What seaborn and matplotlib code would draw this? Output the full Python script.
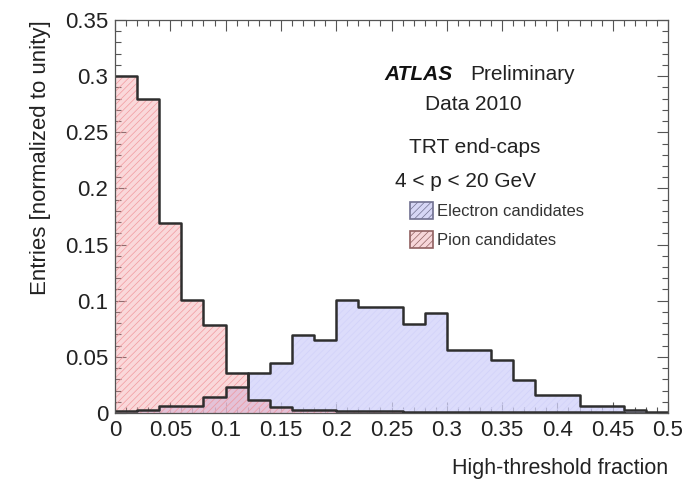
import numpy as np
import pandas as pd
import matplotlib
matplotlib.use("Agg")
import matplotlib.pyplot as plt
from matplotlib.patches import Patch
from matplotlib.ticker import MultipleLocator
import seaborn as sns

# Histogram binning of the high-threshold fraction
bin_edges = [0.00, 0.02, 0.04, 0.06, 0.08, 0.10, 0.12, 0.14, 0.16, 0.18,
             0.20, 0.22, 0.24, 0.26, 0.28, 0.30, 0.32, 0.34, 0.36, 0.38,
             0.40, 0.42, 0.44, 0.46, 0.48, 0.50]

# Normalised entries per bin
electron_entries = [0.002, 0.003, 0.006, 0.006, 0.0146, 0.0235, 0.036, 0.0445,
                    0.0695, 0.065, 0.101, 0.094, 0.094, 0.079, 0.089, 0.056,
                    0.056, 0.047, 0.029, 0.016, 0.016, 0.0065, 0.0065, 0.003,
                    0.0012]
pion_entries = [0.300, 0.280, 0.169, 0.101, 0.0786, 0.036, 0.012, 0.0057,
                0.003, 0.0025, 0.002, 0.0018, 0.0015, 0.0013, 0.0012, 0.0010,
                0.0009, 0.0008, 0.0007, 0.0006, 0.0006, 0.0005, 0.0005, 0.0004,
                0.0004]

series_labels = ["Electron candidates", "Pion candidates"]

edges = np.array(bin_edges)
centers = 0.5 * (edges[:-1] + edges[1:])
df = pd.DataFrame({
    "fraction": np.concatenate([centers, centers]),
    "entries": electron_entries + pion_entries,
    "sample": [series_labels[0]] * len(centers) + [series_labels[1]] * len(centers),
})

sns.set_theme(style="ticks")
plt.rcParams["font.family"] = ["Liberation Sans", "DejaVu Sans"]
plt.rcParams["hatch.linewidth"] = 0.5

fig = plt.figure(figsize=(6.86, 4.84), dpi=100)
ax = fig.add_axes([0.1676, 0.1467, 0.8062, 0.8120])

fill_colors = {series_labels[0]: (0.82, 0.82, 0.98), series_labels[1]: (0.95, 0.60, 0.62)}
fill_alpha = {series_labels[0]: 0.75, series_labels[1]: 0.38}
hatch_colors = {series_labels[0]: (0.76, 0.76, 0.93), series_labels[1]: (0.93, 0.76, 0.78)}
line_color = "#2e2e2e"

for name in series_labels:
    sub = df[df["sample"] == name]
    plt.rcParams["hatch.color"] = hatch_colors[name]
    sns.histplot(data=sub, x="fraction", weights="entries", bins=list(bin_edges),
                 element="step", fill=True, color=fill_colors[name],
                 alpha=fill_alpha[name], linewidth=0, ax=ax)
    coll = ax.collections[-1]
    coll.set_edgecolor("none")
    coll.set_hatch("/////")

for name in series_labels:
    sub = df[df["sample"] == name]
    sns.histplot(data=sub, x="fraction", weights="entries", bins=list(bin_edges),
                 element="step", fill=False, color=line_color,
                 linewidth=1.8, ax=ax)

ax.set_xlim(0, 0.5)
ax.set_ylim(0, 0.35)
ax.xaxis.set_major_locator(MultipleLocator(0.05))
ax.xaxis.set_minor_locator(MultipleLocator(0.01))
ax.yaxis.set_major_locator(MultipleLocator(0.05))
ax.yaxis.set_minor_locator(MultipleLocator(0.01))
ax.xaxis.set_major_formatter(plt.FuncFormatter(lambda v, p: f"{v:g}"))
ax.yaxis.set_major_formatter(plt.FuncFormatter(lambda v, p: f"{v:g}"))
ax.tick_params(which="both", direction="in", top=True, right=True,
               colors="#555555", labelcolor="#222222", labelsize=16, width=0.8)
ax.tick_params(which="major", length=8, pad=5)
ax.tick_params(which="minor", length=4)
for sp in ax.spines.values():
    sp.set_color("#555555")
    sp.set_linewidth(0.9)

ax.set_xlabel("High-threshold fraction", loc="right", fontsize=15.5,
              color="#222222", labelpad=12)
ax.set_ylabel("Entries [normalized to unity]", loc="top", fontsize=16,
              color="#222222", labelpad=10)

ax.text(0.488, 0.862, "ATLAS", transform=ax.transAxes, fontsize=15,
        fontweight="bold", fontstyle="italic", ha="left", va="center",
        color="#111111")
ax.text(0.643, 0.862, "Preliminary", transform=ax.transAxes, fontsize=15,
        ha="left", va="center", color="#222222")
ax.text(0.648, 0.786, "Data 2010", transform=ax.transAxes, fontsize=15,
        ha="center", va="center", color="#222222")
ax.text(0.650, 0.676, "TRT end-caps", transform=ax.transAxes, fontsize=15,
        ha="center", va="center", color="#222222")
ax.text(0.633, 0.589, "4 < p < 20 GeV", transform=ax.transAxes, fontsize=15,
        ha="center", va="center", color="#222222")

handles = [
    Patch(facecolor=(0.84, 0.84, 0.96), edgecolor="#707090",
          hatch="/////", linewidth=1.2),
    Patch(facecolor=(0.97, 0.84, 0.85), edgecolor="#906060",
          hatch="/////", linewidth=1.2),
]
ax.legend(handles, series_labels, loc="upper left",
          bbox_to_anchor=(0.522, 0.553), frameon=False, fontsize=12,
          handlelength=1.35, handleheight=1.15, handletextpad=0.25,
          labelspacing=0.72, borderaxespad=0, labelcolor="#333333")

fig.savefig("out.png", dpi=100)
